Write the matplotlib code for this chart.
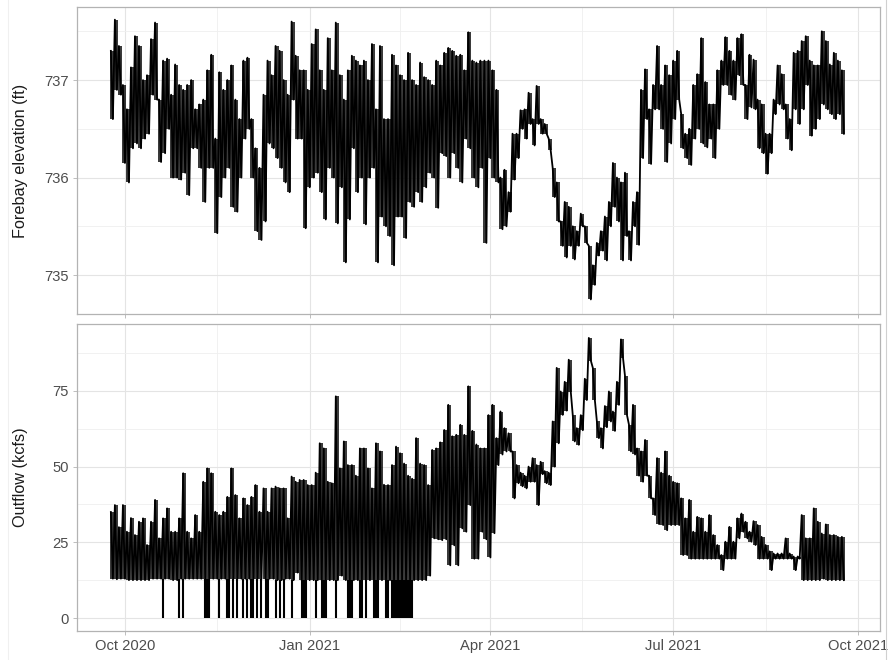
"""
Forebay elevation and outflow, Sep 2020 - Sep 2021.
Two stacked panels sharing the time axis; saves out.png.
"""

import numpy as np
import matplotlib
matplotlib.use("Agg")
import matplotlib.pyplot as plt
import matplotlib.dates as mdates
from matplotlib.lines import Line2D

plt.rcParams["font.family"] = ["Liberation Sans", "DejaVu Sans"]

# series start; each value pair below covers two days (daily high, then daily low)
START = np.datetime64("2020-09-24")

# forebay elevation (ft)
forebay_hi = [
    737.3, 737.62, 737.35, 736.95, 736.7, 737.13, 737.45, 737.35, 737.0, 737.05,
    737.42, 737.59, 736.8, 737.2, 737.22, 736.85, 737.16, 736.95, 736.9, 736.95,
    737.0, 736.7, 736.75, 736.8, 737.1, 737.26, 736.4, 737.08, 736.9, 737.0,
    737.15, 736.8, 736.6, 737.2, 737.23, 736.6, 736.3, 736.1, 736.85, 737.2,
    737.05, 737.35, 737.3, 737.0, 736.85, 737.6, 737.25, 737.1, 737.1, 736.9,
    737.37, 737.52, 737.1, 736.9, 737.43, 737.1, 737.59, 737.05, 736.8, 737.1,
    737.25, 737.2, 737.15, 737.2, 737.0, 737.37, 736.7, 737.35, 736.6, 736.6,
    737.26, 737.15, 737.05, 737.0, 737.28, 737.0, 736.95, 737.18, 737.03, 737.0,
    736.95, 737.2, 737.15, 737.28, 737.33, 737.3, 737.25, 737.26, 737.1, 737.49,
    737.2, 737.18, 737.2, 737.2, 737.2, 737.1, 736.9, 736.0, 736.08, 735.85,
    736.45, 736.45, 736.69, 736.7, 736.87, 736.6, 736.94, 736.6, 736.55, 736.4,
    736.1, 735.95, 735.55, 735.75, 735.7, 735.5, 735.45, 735.63, 735.5, 735.3,
    735.1, 735.33, 735.45, 735.6, 735.75, 736.15, 736.0, 735.95, 736.05, 735.45,
    735.75, 735.85, 736.9, 737.11, 736.7, 736.95, 737.35, 736.95, 737.15, 737.05,
    737.2, 737.3, 736.65, 736.45, 736.5, 736.95, 737.06, 737.43, 736.98, 736.75,
    736.75, 737.1, 737.2, 737.44, 737.3, 737.2, 737.43, 737.47, 736.95, 737.26,
    737.21, 736.8, 736.75, 736.45, 736.45, 736.8, 737.15, 737.06, 736.75, 736.6,
    737.28, 737.3, 737.4, 737.45, 737.2, 737.15, 737.15, 737.5, 737.4, 737.16,
    737.28, 737.2, 737.1,
]
forebay_lo = [
    736.6, 736.9, 736.85, 736.15, 735.95, 736.3, 736.35, 736.3, 736.4, 736.45,
    736.85, 736.8, 736.16, 736.25, 736.5, 736.0, 736.0, 735.98, 736.05, 735.82,
    736.3, 736.3, 736.1, 735.75, 736.1, 736.1, 735.43, 735.8, 736.0, 736.1,
    735.7, 735.65, 736.0, 736.4, 736.5, 736.0, 735.45, 735.36, 735.55, 736.35,
    736.3, 736.2, 736.1, 735.95, 735.85, 736.8, 736.4, 736.4, 735.48, 735.9,
    736.0, 736.05, 735.85, 735.57, 736.1, 736.0, 735.53, 735.9, 735.13, 735.57,
    736.3, 735.85, 736.0, 735.52, 736.0, 736.1, 735.13, 735.6, 735.5, 735.4,
    735.1, 735.6, 735.6, 735.38, 735.75, 735.7, 735.85, 735.75, 735.9, 736.05,
    736.0, 735.69, 736.25, 736.22, 736.0, 736.25, 736.1, 735.95, 736.4, 736.3,
    736.0, 735.9, 736.1, 735.33, 736.2, 736.0, 735.95, 735.47, 735.5, 735.65,
    735.98, 736.2, 736.5, 736.4, 736.55, 736.33, 736.55, 736.45, 736.45, 736.28,
    735.8, 735.55, 735.3, 735.18, 735.3, 735.16, 735.3, 735.5, 735.33, 734.75,
    734.9, 735.2, 735.25, 735.15, 735.5, 735.7, 735.55, 735.15, 735.4, 735.15,
    735.5, 735.31, 736.2, 736.6, 736.14, 736.7, 736.7, 736.5, 736.16, 736.35,
    736.6, 736.8, 736.3, 736.2, 736.13, 736.4, 736.5, 736.35, 736.31, 736.4,
    736.2, 736.5, 736.95, 736.95, 736.85, 736.8, 737.05, 736.95, 736.6, 736.72,
    736.7, 736.3, 736.25, 736.04, 736.25, 736.65, 736.75, 736.7, 736.4, 736.28,
    736.7, 736.55, 736.7, 736.95, 736.43, 736.5, 736.6, 736.75, 736.7, 736.65,
    736.6, 736.65, 736.45,
]

# outflow (kcfs)
outflow_hi = [
    35, 37.3, 30, 37.3, 28.5, 33, 27.4, 31.8, 32.9, 24.1,
    31.8, 39, 26.3, 32.9, 36.2, 28.5, 28.5, 32.9, 47.8, 28.5,
    26.3, 34, 28.5, 45, 49.4, 47.8, 35.1, 34, 35.1, 40,
    49.4, 40.6, 32.9, 39.5, 37.3, 40, 43.9, 35.1, 42.8, 35.1,
    42.8, 43.4, 42.8, 42.8, 32.9, 46.7, 45, 45.6, 45.6, 43.9,
    43.9, 48, 57.7, 56, 45, 44.5, 73.2, 49.4, 58.3, 50.5,
    50.5, 47, 56, 56, 49.4, 42.8, 57.7, 55, 44, 43.9,
    50.5, 56.6, 54.4, 51, 47, 46, 59.4, 51, 50.5, 43.9,
    55.5, 56, 58, 62.1, 70.4, 60, 60.5, 63.8, 60.5, 76.5,
    61.8, 57.3, 56, 56, 67, 70.4, 59.4, 68.2, 62.7, 61,
    55, 50.5, 48, 47, 50, 52.8, 50.5, 51.6, 48.5, 48,
    64.9, 82.6, 74.8, 78, 85.3, 67, 62.7, 67, 79, 92.5,
    82.6, 65, 62.7, 70, 74.8, 68.2, 78, 92, 80, 63.8,
    70.4, 56, 55, 58.8, 47, 39.5, 52.8, 48, 55, 47,
    45, 44.5, 39.5, 32.9, 39, 28.5, 33.4, 32.9, 28.5, 34,
    27.4, 24.1, 20.8, 25.2, 30.1, 25.2, 32.9, 34.5, 31.8, 28.5,
    32, 30.7, 26.8, 24.1, 22, 21.3, 21.3, 21.3, 26.3, 21.3,
    20.3, 20.3, 34, 26.3, 26.3, 36.2, 31.8, 27.9, 30.9, 27.4,
    27.4, 26.8, 26.8,
]
outflow_lo = [
    13, 12.8, 13, 13, 12.5, 12.5, 12.5, 12.5, 12.5, 12.5,
    13, 13, 13, 13, 13, 12.5, 12.5, 13, 13, 13,
    13, 13, 13, 13, 13, 13, 13, 13, 13, 13,
    13, 13, 13, 13, 13, 13, 13, 13, 13, 13,
    13, 12.5, 12.5, 13, 13, 12.5, 15, 12.5, 12.5, 12.5,
    12.5, 12.5, 12.5, 12.5, 12.5, 12.5, 12.5, 14, 12.5, 12.5,
    12.5, 12.5, 12.5, 12.5, 12.5, 12.5, 12.5, 12.5, 12.5, 12.5,
    12.5, 12.5, 12.5, 12.5, 12.5, 12.5, 12.5, 12.5, 12.5, 14,
    26.3, 26, 25.7, 26, 17.4, 24, 17.4, 29.6, 28.5, 37.3,
    19.6, 19.6, 28.5, 26, 20, 28, 50.5, 54, 55, 55,
    39.5, 44.5, 43.5, 42.8, 45, 45, 37.3, 47.5, 44.5, 43.9,
    50, 57.7, 67.1, 68.5, 74.8, 58.3, 57.2, 62, 72, 85,
    72, 59.4, 56, 63, 64.9, 61.8, 70.4, 85.9, 67, 55,
    54, 47, 45, 47, 39.5, 34, 31, 30.7, 29, 30.7,
    30.7, 30.7, 20.8, 20.8, 19.6, 19.6, 19.6, 19.6, 19.6, 19.6,
    19.6, 19.6, 15.8, 19.6, 19.6, 19.6, 26.3, 28.5, 26.3, 25.2,
    24.1, 19.6, 19.6, 19.6, 15.8, 19.6, 19.6, 19.6, 19.6, 19.6,
    15.8, 19.6, 12.5, 12.5, 12.5, 12.5, 12.5, 13, 12.5, 12.5,
    12.5, 12.5, 12.5,
]

# days on which the outflow dropped to zero
zero_days = [
    "2020-10-20", "2020-10-28", "2020-10-30", "2020-11-10", "2020-11-11",
    "2020-11-12", "2020-11-17", "2020-11-21", "2020-11-22", "2020-11-24",
    "2020-11-26", "2020-11-29", "2020-12-01", "2020-12-03", "2020-12-04",
    "2020-12-06", "2020-12-08", "2020-12-10", "2020-12-11", "2020-12-15",
    "2020-12-17", "2020-12-19", "2020-12-23", "2020-12-28", "2020-12-29",
    "2020-12-30", "2021-01-04", "2021-01-07", "2021-01-08", "2021-01-09",
    "2021-01-14", "2021-01-20", "2021-01-21", "2021-01-22", "2021-01-26",
    "2021-01-27", "2021-01-29", "2021-02-02", "2021-02-03", "2021-02-04",
    "2021-02-08", "2021-02-09", "2021-02-11", "2021-02-12", "2021-02-13",
    "2021-02-14", "2021-02-15", "2021-02-16", "2021-02-17", "2021-02-18",
    "2021-02-19", "2021-02-20", "2021-02-21",
]

QUARTERS = np.array(["2020-10-01", "2021-01-01", "2021-04-01",
                     "2021-07-01", "2021-10-01"], dtype="datetime64[D]")
XLIM = (np.datetime64("2020-09-07T03"), np.datetime64("2021-10-12"))


def desenha(ax, hi, lo):
    # the daily range as one vertical stroke per day, plus the high/low swing as a line
    n = len(hi)
    hi = np.asarray(hi, dtype=float)
    lo = np.asarray(lo, dtype=float)
    datas = START + np.arange(2 * n).astype("timedelta64[D]")
    ax.vlines(datas, np.repeat(lo, 2), np.repeat(hi, 2), color="black", linewidth=1.1)

    vals = np.empty(2 * n)
    vals[0::2] = hi
    vals[1::2] = lo
    ax.plot(datas, vals, color="black", linewidth=1.3)
    return datas[0::2]


def estilo(ax, yticks, yminor, ylim):
    ax.set_xlim(XLIM)
    ax.set_ylim(ylim)
    ax.set_yticks(yticks)
    ax.set_yticks(yminor, minor=True)
    ax.xaxis.set_major_locator(mdates.MonthLocator(bymonth=[1, 4, 7, 10]))
    ax.xaxis.set_major_formatter(mdates.DateFormatter("%b %Y"))
    q = mdates.date2num(QUARTERS)
    ax.set_xticks((q[:-1] + q[1:]) / 2, minor=True)

    ax.grid(which="major", color="#e4e4e4", linewidth=0.8)
    ax.grid(which="minor", color="#efefef", linewidth=0.6)
    ax.set_axisbelow(True)
    for s in ax.spines.values():
        s.set_color("#b3b3b3")
        s.set_linewidth(0.9)
    ax.tick_params(which="major", length=3, width=0.6, color="#b3b3b3",
                   labelsize=10.6, labelcolor="#4d4d4d", pad=3)
    ax.tick_params(which="minor", length=0)
    ax.yaxis.set_label_coords(-0.061, 0.5)


def main():
    fig = plt.figure(figsize=(8.89, 6.6), dpi=100)
    ax1 = fig.add_axes([0.0866, 0.5242, 0.9033, 0.4652])
    ax2 = fig.add_axes([0.0866, 0.0439, 0.9033, 0.4652])

    desenha(ax1, forebay_hi, forebay_lo)
    estilo(ax1, [735, 736, 737], [735.5, 736.5, 737.5], (734.6, 737.75))
    ax1.set_ylabel("Forebay elevation (ft)", fontsize=11.7, color="#1a1a1a")
    ax1.tick_params(axis="x", labelbottom=False)

    dias = desenha(ax2, outflow_hi, outflow_lo)
    zeros = np.array(zero_days, dtype="datetime64[D]")
    piso = np.interp(mdates.date2num(zeros), mdates.date2num(dias), outflow_lo)
    ax2.vlines(zeros, 0, piso, color="black", linewidth=1.5)
    estilo(ax2, [0, 25, 50, 75], [12.5, 37.5, 62.5, 87.5], (-4.3, 97.1))
    ax2.set_ylabel("Outflow (kcfs)", fontsize=11.7, color="#1a1a1a")

    # thin frame lines at the sides of the saved image
    fig.add_artist(Line2D([0.9966, 0.9966], [0, 1], color="#d0d0d0", lw=0.8))
    fig.add_artist(Line2D([0.009, 0.009], [0, 1], color="#f0f0f0", lw=0.8))

    fig.savefig("out.png", dpi=100)
    plt.close(fig)


if __name__ == "__main__":
    main()
